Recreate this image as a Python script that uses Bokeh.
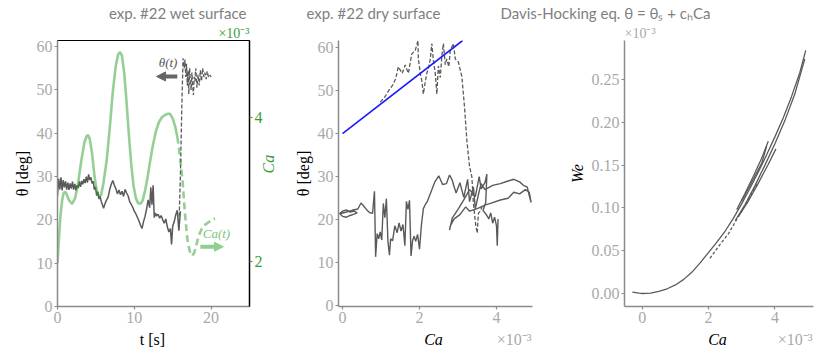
import math
from bokeh.plotting import figure
from bokeh.layouts import column, row
from bokeh.models import (Range1d, LinearAxis, SingleIntervalTicker, Label, Arrow, NormalHead,
                          NumeralTickFormatter, Legend, LegendItem)
from bokeh.core.properties import value
from bokeh.embed import file_html
from bokeh.resources import INLINE

# ---------------- data (Ca values in units of 1e-3) ----------------
# Panel 1: time series
t_wet = [0.0, 0.15, 0.3, 0.45, 0.6, 0.75, 0.9, 1.05, 1.2, 1.35, 1.5, 1.65, 1.8, 1.95, 2.1, 2.25,
         2.4, 2.55, 2.7, 2.85, 3.0, 3.15, 3.3, 3.45, 3.6, 3.75, 3.9, 4.05, 4.2, 4.35, 4.5, 4.65,
         4.8, 4.95, 5.1, 5.25, 5.4, 5.55, 5.7, 5.85, 6.0, 6.2, 6.4, 6.6, 6.8, 7.0, 7.2, 7.4, 7.6,
         7.8, 8.0, 8.2, 8.4, 8.6, 8.8, 9.0, 9.2, 9.4, 9.6, 9.8, 10.0, 10.2, 10.4, 10.6, 10.8, 11.0,
         11.2, 11.4, 11.6, 11.8, 12.0, 12.15, 12.3, 12.45, 12.6, 12.75, 12.9, 13.1, 13.3, 13.5,
         13.7, 13.9, 14.1, 14.3, 14.5, 14.7, 14.85, 15.0, 15.2, 15.4, 15.6, 15.8, 16.0]
theta_wet_t = [25.5, 29.5, 27.0, 29.8, 26.8, 29.2, 27.5, 28.9, 27.0, 28.6, 26.9, 28.4, 27.2, 28.8,
               27.0, 28.3, 26.8, 28.0, 27.3, 28.9, 27.6, 29.0, 28.2, 29.4, 28.5, 30.0, 28.6, 30.5,
               29.2, 29.8, 28.4, 28.9, 27.0, 27.6, 25.6, 26.5, 24.8, 25.5, 24.2, 23.5, 22.7, 23.8,
               24.6, 25.3, 27.0, 28.2, 29.1, 28.0, 27.2, 26.0, 26.9, 25.8, 26.6, 25.4, 27.0, 26.2,
               25.5, 24.2, 23.6, 22.9, 22.0, 21.4, 20.6, 19.8, 18.8, 18.0, 19.6, 20.8, 22.5, 24.6,
               22.8, 27.5, 23.5, 28.0, 20.5, 21.6, 20.9, 21.3, 20.4, 21.0, 20.0, 19.2, 20.2, 18.4,
               17.2, 18.0, 14.3, 18.5, 19.6, 21.2, 22.2, 17.5, 22.0]
t_dry = [15.8, 16.0, 16.2, 16.35, 16.5, 16.6, 16.7, 16.8, 16.9, 17.0, 17.1, 17.2, 17.3, 17.4,
         17.5, 17.6, 17.7, 17.8, 17.9, 18.0, 18.15, 18.3, 18.45, 18.6, 18.75, 18.9, 19.05, 19.2,
         19.35, 19.5, 19.65, 19.8, 20.0]
theta_dry_t = [18.0, 30.0, 47.0, 57.3, 55.0, 57.0, 53.0, 56.0, 51.0, 54.5, 49.0, 55.0, 52.0,
               50.0, 54.0, 51.0, 48.8, 53.0, 52.0, 55.0, 50.5, 53.5, 51.0, 54.5, 52.0, 55.0, 53.0,
               54.0, 52.5, 54.3, 53.0, 53.5, 53.0]
t_ca = [0.0, 0.2, 0.4, 0.6, 0.8, 1.0, 1.2, 1.5, 1.9, 2.3, 2.7, 3.1, 3.5, 3.8, 4.0, 4.2, 4.5, 4.8,
        5.1, 5.4, 5.7, 6.0, 6.4, 6.8, 7.2, 7.6, 7.9, 8.15, 8.4, 8.7, 9.0, 9.3, 9.6, 9.9, 10.2,
        10.5, 10.8, 11.1, 11.4, 11.7, 12.0, 12.4, 12.8, 13.2, 13.6, 14.0, 14.4, 14.7, 15.0, 15.3,
        15.6, 15.9, 16.1, 16.3, 16.5, 16.7, 16.9, 17.2, 17.5, 17.8, 18.1, 18.4, 18.8, 19.2, 19.6,
        20.0, 20.5]
ca_t = [1.98, 2.35, 2.65, 2.85, 2.95, 2.97, 2.93, 2.85, 2.80, 2.88, 3.10, 3.40, 3.65, 3.74, 3.75,
        3.70, 3.50, 3.20, 2.98, 2.90, 2.93, 3.10, 3.40, 3.85, 4.35, 4.72, 4.87, 4.90, 4.85, 4.60,
        4.20, 3.75, 3.35, 3.05, 2.88, 2.81, 2.80, 2.85, 2.98, 3.15, 3.35, 3.60, 3.80, 3.93, 4.00,
        4.03, 4.05, 4.04, 3.98, 3.88, 3.73, 3.50, 3.30, 3.10, 2.80, 2.55, 2.32, 2.15, 2.08, 2.12,
        2.24, 2.36, 2.46, 2.51, 2.54, 2.57, 2.60]
t_ca_dash_start = 15.6

# Panel 2: contact angle vs capillary number
ca_wet = [-0.08, 0.0, 0.1, 0.2, 0.3, 0.38, 0.3, 0.2, 0.1, 0.0, -0.08, 0.1, 0.25, 0.4, 0.48, 0.55,
          0.62, 0.7, 0.78, 0.83, 0.86, 0.9, 0.94, 0.98, 1.02, 1.06, 1.1, 1.14, 1.18, 1.22, 1.25,
          1.3, 1.36, 1.42, 1.47, 1.52, 1.57, 1.62, 1.66, 1.7, 1.74, 1.78, 1.82, 1.86, 1.9, 1.95,
          2.0, 2.05, 2.1, 2.15, 2.2, 2.3, 2.4, 2.5, 2.6, 2.7, 2.78, 2.85, 2.9, 2.86, 2.95, 3.05,
          3.15, 3.25, 3.3, 3.4, 3.45, 3.55, 3.6, 3.7, 3.9, 4.1, 4.3, 4.45, 4.6, 4.7, 4.8, 4.85,
          4.9, 4.85, 4.75, 4.6, 4.45, 4.3, 4.1, 3.9, 3.7, 3.5, 3.3, 3.2, 3.05, 2.9, 2.8, 2.78,
          2.85, 3.0, 3.15, 3.3, 3.45, 3.55, 3.6, 3.7, 3.75, 3.72, 3.65, 3.75, 3.8, 3.85, 3.9,
          3.95, 4.0, 4.02, 4.04]
theta_wet_ca = [21.5, 20.8, 20.6, 21.0, 21.3, 21.6, 22.0, 21.8, 22.3, 22.0, 21.4, 21.8, 22.2,
                22.5, 23.9, 23.2, 22.4, 21.7, 21.5, 26.6, 11.4, 16.8, 15.6, 17.2, 15.3, 23.8,
                20.5, 24.9, 15.0, 11.8, 15.6, 15.1, 18.6, 17.0, 19.3, 17.4, 18.9, 14.0, 24.3,
                22.4, 24.5, 11.6, 15.2, 16.2, 15.0, 16.6, 13.2, 18.8, 22.6, 23.5, 24.2, 26.5,
                28.8, 30.2, 28.2, 28.4, 30.4, 29.2, 27.6, 28.8, 26.2, 28.6, 25.2, 29.4, 24.2,
                27.6, 22.6, 26.6, 28.4, 27.0, 28.0, 28.4, 29.0, 29.4, 28.8, 28.0, 27.6, 25.6,
                24.0, 26.4, 27.0, 26.0, 26.4, 25.0, 24.6, 24.0, 23.4, 22.6, 22.0, 23.0, 21.2,
                20.2, 18.6, 17.6, 20.4, 22.4, 24.6, 27.0, 25.4, 30.0, 27.2, 28.6, 30.6, 24.0,
                22.2, 21.0, 20.2, 21.6, 19.2, 20.6, 18.6, 14.0, 20.2]
ca_dry = [0.98, 1.1, 1.2, 1.3, 1.38, 1.45, 1.55, 1.63, 1.71, 1.8, 1.89, 1.96, 1.97, 2.03, 2.06,
          2.1, 2.15, 2.19, 2.24, 2.28, 2.32, 2.36, 2.41, 2.45, 2.49, 2.54, 2.58, 2.62, 2.67, 2.71,
          2.76, 2.8, 2.88, 2.93, 3.01, 3.1, 3.17, 3.23, 3.3, 3.36, 3.4, 3.46, 3.5, 3.53, 3.58, 3.62]
theta_dry_ca = [47.3, 48.5, 50.0, 51.2, 52.7, 55.5, 54.0, 55.9, 54.0, 58.5, 59.3, 61.6, 57.3,
                53.5, 52.3, 49.2, 52.0, 54.0, 55.5, 57.3, 60.9, 57.0, 54.0, 49.2, 55.7, 53.0,
                58.0, 60.9, 56.0, 57.3, 55.5, 59.3, 60.9, 57.3, 56.6, 53.2, 46.1, 38.4, 32.3,
                30.0, 23.8, 18.8, 16.9, 21.5, 22.0, 23.0]
ca_dh = [0.0, 3.12]
theta_dh = [40.0, 61.6]

# Panel 3: Weber number vs capillary number (wet branches + dry)
ca_we_main = [-0.30, -0.2, -0.1, 0.0, 0.25, 0.5, 0.75, 1.0, 1.25, 1.5, 1.75, 2.0, 2.25, 2.5, 2.75,
              3.0, 3.25, 3.5, 3.75, 4.0, 4.25, 4.5, 4.75, 4.93]
we_main = [0.0015, 0.001, 0.0004, 0.0, 0.0005, 0.0025, 0.0055, 0.010, 0.0165, 0.025, 0.036,
           0.048, 0.060, 0.073, 0.088, 0.105, 0.123, 0.142, 0.162, 0.183, 0.205, 0.230, 0.258,
           0.284]
ca_we_b1 = [2.8, 3.1, 3.4, 3.7, 4.0, 4.3, 4.6, 4.9]
we_b1 = [0.085, 0.104, 0.126, 0.150, 0.175, 0.202, 0.233, 0.274]
ca_we_b2 = [2.85, 3.1, 3.35, 3.6, 3.8]
we_b2 = [0.098, 0.117, 0.137, 0.158, 0.178]
ca_we_b3 = [2.9, 3.2, 3.5, 3.8, 4.03]
we_b3 = [0.090, 0.108, 0.129, 0.151, 0.169]
ca_we_b4 = [3.0, 3.3, 3.6, 3.75]
we_b4 = [0.108, 0.130, 0.152, 0.172]
ca_we_dry = [2.04, 2.3, 2.6, 2.9, 3.2, 3.5]
we_dry = [0.041, 0.055, 0.070, 0.090, 0.110, 0.130]

legend_labels = ["exp. #22 wet surface", "exp. #22 dry surface",
                 "Davis-Hocking eq. θ = θₛ + cₕCa"]
scale_text = "×10⁻³"
xlabels = ["t [s]", "Ca", "Ca"]

# ---------------- styling ----------------
SERIF = "Liberation Serif"
SANS = "Lato"
TICK = "#a9a9a9"
SPINE = "#8a8a8a"
DARK = "#5a5a5a"
GREEN = "#2ca02c"
GREEN_AX = "#3c9c3c"
BLUE = "#1a1aff"

# layout (pixels)
W1, W2, W3 = 290, 275, 265
H_LEG, H_ROW, H_BOT = 23, 306, 22


def style_axis(ax, color=SPINE, label_color=TICK):
    ax.axis_line_color = color
    ax.axis_line_width = 1.5
    ax.major_tick_line_color = color
    ax.major_tick_line_width = 1.2
    ax.major_tick_in = 0
    ax.major_tick_out = 3
    ax.minor_tick_line_color = None
    ax.major_label_text_font = SERIF
    ax.major_label_text_font_size = "16px"
    ax.major_label_text_color = label_color
    ax.major_label_standoff = 2
    ax.axis_label_text_font = SERIF
    ax.axis_label_text_font_size = "16px"
    ax.axis_label_text_color = "black"
    ax.axis_label_standoff = 3
    ax.axis_label_text_font_style = "normal"


def make_fig(w, h, xr, yr, bl, br, bt, bb):
    p = figure(width=w, height=h, x_range=Range1d(*xr), y_range=Range1d(*yr),
               output_backend="svg", toolbar_location=None,
               min_border_left=bl, min_border_right=br, min_border_top=bt, min_border_bottom=bb)
    p.grid.visible = False
    p.outline_line_color = None
    for ax in p.axis:
        style_axis(ax)
    return p


def top_note(p, text, color, align):
    p.title.text = text
    p.title.align = align
    p.title.text_color = color
    p.title.text_font = SERIF
    p.title.text_font_size = "14px"
    p.title.text_font_style = "normal"
    p.title.standoff = 0


def strip(w, h):
    s = figure(width=w, height=h, x_range=Range1d(0, w), y_range=Range1d(0, h),
               x_axis_type=None, y_axis_type=None, output_backend="svg",
               toolbar_location=None, min_border=0)
    s.grid.visible = False
    s.outline_line_color = None
    return s


# ---------------- legend strip ----------------
pl = strip(830, H_LEG)
r1 = pl.line([], [], line_color=DARK, line_width=1.6)
r2 = pl.line([], [], line_color=DARK, line_width=1.6, line_dash="6 4")
r3 = pl.line([], [], line_color=BLUE, line_width=1.6)
leg = Legend(items=[LegendItem(label=legend_labels[0], renderers=[r1]),
                    LegendItem(label=legend_labels[1], renderers=[r2]),
                    LegendItem(label=legend_labels[2], renderers=[r3])],
             orientation="horizontal", location=(62, 0), padding=0, margin=0, spacing=13,
             label_standoff=12, glyph_width=35, glyph_height=10, label_height=10,
             border_line_color=None, background_fill_alpha=0,
             label_text_font=SANS, label_text_font_size="15px", label_text_color="#808080")
pl.add_layout(leg)

# ---------------- panel 1 ----------------
p1 = make_fig(W1, H_ROW, (0, 25), (0, 61.4), 57, 41, 16, 23)
p1.outline_line_color = "black"
p1.outline_line_width = 1
p1.xaxis.ticker = SingleIntervalTicker(interval=10, num_minor_ticks=0)
p1.yaxis.ticker = SingleIntervalTicker(interval=10, num_minor_ticks=0)
p1.yaxis.axis_label = "θ [deg]"
p1.extra_y_ranges = {"ca": Range1d(1.379, 5.062)}
ax_r = LinearAxis(y_range_name="ca", ticker=SingleIntervalTicker(interval=2, num_minor_ticks=0),
                  axis_label="Ca")
style_axis(ax_r, color="black", label_color=GREEN_AX)
ax_r.major_tick_line_color = GREEN_AX
ax_r.axis_label_text_color = GREEN_AX
ax_r.axis_label_text_font_style = "italic"
ax_r.axis_label_orientation = math.pi / 2
p1.add_layout(ax_r, "right")
top_note(p1, scale_text, GREEN_AX, "right")

p1.line(t_wet, theta_wet_t, line_color=DARK, line_width=1.5)
p1.line(t_dry, theta_dry_t, line_color=DARK, line_width=1.3, line_dash="4 2")
n_solid = sum(1 for t in t_ca if t <= t_ca_dash_start)
p1.line(t_ca[:n_solid], ca_t[:n_solid], y_range_name="ca", line_color=GREEN, line_alpha=0.5,
        line_width=2.6)
p1.line(t_ca[n_solid - 1:], ca_t[n_solid - 1:], y_range_name="ca", line_color=GREEN,
        line_alpha=0.5, line_width=2.6, line_dash="7 4")

p1.add_layout(Arrow(end=NormalHead(size=9, fill_color="#666666", line_color="#666666"),
                    x_start=15.6, y_start=53.1, x_end=12.9, y_end=53.1,
                    line_color="#666666", line_width=4))
p1.add_layout(Label(x=14.4, y=56.3, text="θ(t)", text_color="#555555", text_align="center",
                    text_baseline="middle", text_font=SERIF, text_font_size="13px",
                    text_font_style="italic"))
p1.add_layout(Arrow(end=NormalHead(size=9, fill_color="#8fcf8f", line_color="#8fcf8f"),
                    x_start=18.6, y_start=13.8, x_end=21.6, y_end=13.8,
                    line_color="#8fcf8f", line_width=4))
p1.add_layout(Label(x=20.7, y=16.8, text="Ca(t)", text_color="#7cc47c", text_align="center",
                    text_baseline="middle", text_font=SERIF, text_font_size="13px",
                    text_font_style="italic"))

# ---------------- panel 2 ----------------
p2 = make_fig(W2, H_ROW, (-0.104, 4.935), (-0.12, 61.6), 48, 33, 17, 23)
p2.xaxis.ticker = SingleIntervalTicker(interval=2, num_minor_ticks=0)
p2.yaxis.ticker = SingleIntervalTicker(interval=10, num_minor_ticks=0)
p2.yaxis.axis_label = "θ [deg]"
p2.line(ca_wet, theta_wet_ca, line_color=DARK, line_width=1.4)
p2.line(ca_dry, theta_dry_ca, line_color=DARK, line_width=1.3, line_dash="4 2")
p2.line(ca_dh, theta_dh, line_color=BLUE, line_width=1.6)

# ---------------- panel 3 ----------------
p3 = make_fig(W3, H_ROW, (-0.537, 5.164), (-0.0152, 0.2956), 57, 17, 17, 23)
p3.xaxis.ticker = SingleIntervalTicker(interval=2, num_minor_ticks=0)
p3.yaxis.ticker = SingleIntervalTicker(interval=0.05, num_minor_ticks=0)
p3.yaxis.formatter = NumeralTickFormatter(format="0.00")
p3.yaxis.axis_label = "We"
p3.yaxis.axis_label_text_font_style = "italic"
p3.yaxis.axis_label_standoff = 3
p3.multi_line([ca_we_main, ca_we_b1, ca_we_b2, ca_we_b3, ca_we_b4],
              [we_main, we_b1, we_b2, we_b3, we_b4], line_color=DARK, line_width=1.3)
p3.line(ca_we_dry, we_dry, line_color=DARK, line_width=1.3, line_dash="3 2")
top_note(p3, scale_text, TICK, "left")

# ---------------- bottom strip: x-axis labels and scale notes ----------------
pb = strip(830, H_BOT)
ymid = H_BOT - 9.5
pb.text(x=[152], y=[ymid], text=[xlabels[0]], text_font=value(SERIF), text_font_size="16px",
        text_color="black", text_align="center", text_baseline="middle")
pb.text(x=[433, 717], y=[ymid, ymid], text=xlabels[1:], text_font=value(SERIF),
        text_font_size="16px", text_font_style="italic", text_color="black",
        text_align="center", text_baseline="middle")
pb.text(x=[531, 812], y=[ymid, ymid], text=[scale_text, scale_text], text_font=value(SERIF),
        text_font_size="16px", text_color=TICK, text_align="right", text_baseline="middle")

layout = column(pl, row(p1, p2, p3), pb)
open("out.html", "w").write(file_html(layout, INLINE))
